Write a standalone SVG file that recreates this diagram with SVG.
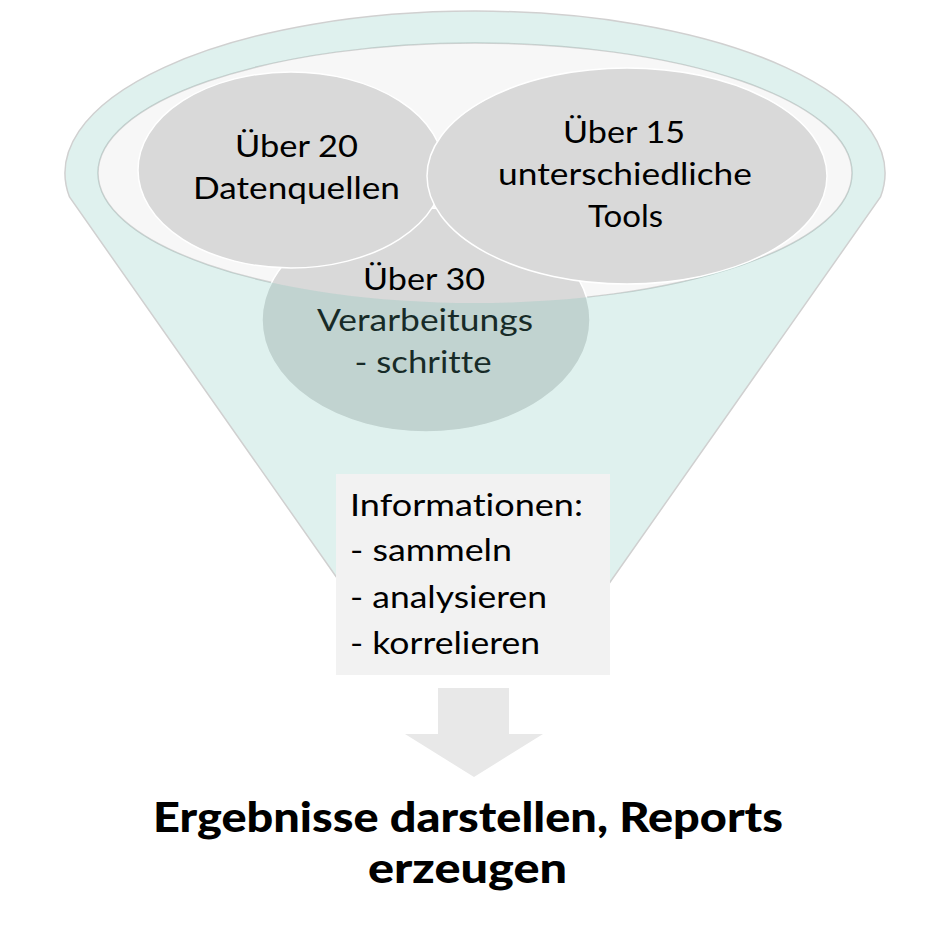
<svg xmlns="http://www.w3.org/2000/svg" width="950" height="936" viewBox="0 0 950 936">
<style>
text{font-variant-ligatures:none;font-feature-settings:"liga" 0,"dlig" 0}
.t{font-family:Lato,"Open Sans","Liberation Sans",sans-serif;font-size:31px;fill:#000;text-anchor:middle}
.l{font-family:Lato,"Open Sans","Liberation Sans",sans-serif;font-size:31px;fill:#000}
.b{font-family:Lato,"Open Sans","Liberation Sans",sans-serif;font-size:41px;font-weight:900;fill:#000;text-anchor:middle}
.c{fill:#D9D9D9;stroke:#FFFFFF;stroke-width:1.5}
</style>
<rect width="950" height="936" fill="#FFFFFF"/>
<g id="funnel-opening">
<ellipse cx="475" cy="173" rx="377" ry="130" fill="#F7F7F7" stroke="#D2D2D2" stroke-width="1.5"/>
</g>
<g id="node-verarbeitung">
<ellipse class="c" cx="426" cy="320" rx="164" ry="112"/>
<text class="t" x="424" y="290" textLength="122" lengthAdjust="spacingAndGlyphs">Über 30</text>
<text class="t" x="425" y="331" textLength="216" lengthAdjust="spacingAndGlyphs">Verarbeitungs</text>
<text class="t" x="423" y="373" textLength="137" lengthAdjust="spacingAndGlyphs">- schritte</text>
</g>
<g id="node-datenquellen">
<ellipse class="c" cx="291" cy="170" rx="153" ry="98"/>
<text class="t" x="296.5" y="157" textLength="123" lengthAdjust="spacingAndGlyphs">Über 20</text>
<text class="t" x="296.5" y="199" textLength="207" lengthAdjust="spacingAndGlyphs">Datenquellen</text>
</g>
<g id="node-tools">
<ellipse class="c" cx="627" cy="176" rx="200" ry="108"/>
<text class="t" x="624" y="143" textLength="122" lengthAdjust="spacingAndGlyphs">Über 15</text>
<text class="t" x="625" y="185" textLength="254" lengthAdjust="spacingAndGlyphs">unterschiedliche</text>
<text class="t" x="625.5" y="227" textLength="75" lengthAdjust="spacingAndGlyphs">Tools</text>
</g>
<g id="funnel">
<path d="M69.5,197 A410,162 0 1 1 880.5,197 L597.5,600 L352.5,600 Z M98,173 A377,130 0 1 0 852,173 A377,130 0 1 0 98,173 Z" fill="rgb(110,190,178)" fill-opacity="0.22" fill-rule="evenodd"/>
<path d="M352.5,600 L69.5,197 A410,162 0 1 1 880.5,197 L597.5,600" fill="none" stroke="#D0D0D0" stroke-width="1.5"/>
</g>
<g id="node-informationen">
<rect x="336" y="474" width="274" height="201" fill="#F2F2F2"/>
<text class="l" x="350" y="516" textLength="233" lengthAdjust="spacingAndGlyphs">Informationen:</text>
<text class="l" x="350" y="561" textLength="162" lengthAdjust="spacingAndGlyphs">- sammeln</text>
<text class="l" x="350" y="608" textLength="197" lengthAdjust="spacingAndGlyphs">- analysieren</text>
<text class="l" x="350" y="654" textLength="190" lengthAdjust="spacingAndGlyphs">- korrelieren</text>
</g>
<g id="connectors">
<path d="M438,688 L509,688 L509,734 L543,734 L474,777 L405,734 L438,734 Z" fill="#E8E8E8"/>
</g>
<g id="node-ergebnis">
<text class="b" x="468" y="832" textLength="630" lengthAdjust="spacingAndGlyphs">Ergebnisse darstellen, Reports</text>
<text class="b" x="467.5" y="883" textLength="199" lengthAdjust="spacingAndGlyphs">erzeugen</text>
</g>
</svg>
